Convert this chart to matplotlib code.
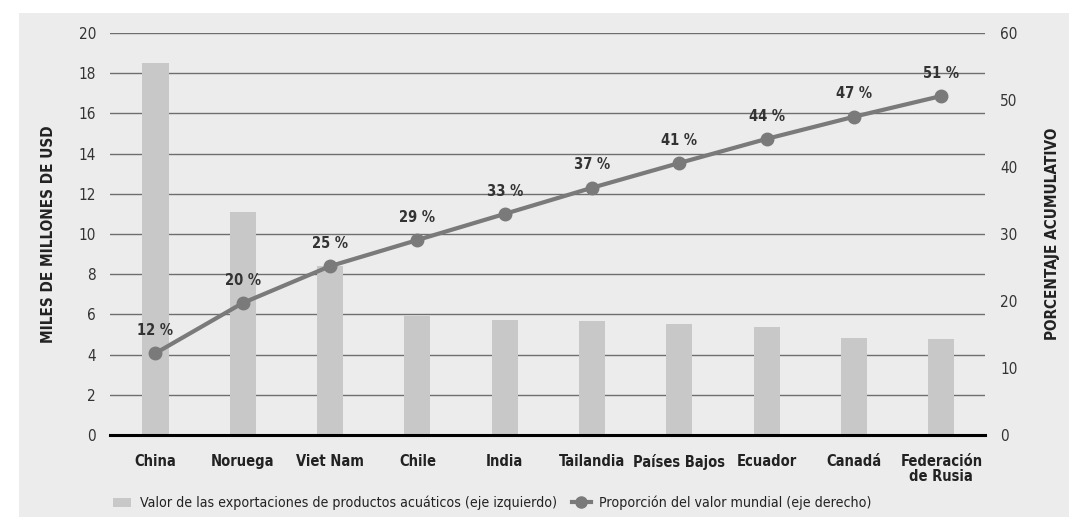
import matplotlib.pyplot as plt
from matplotlib.patches import Rectangle
from matplotlib.lines import Line2D
from matplotlib.patches import Patch

plt.rcParams['font.family'] = ['DejaVu Sans']
plt.rcParams['font.stretch'] = 'condensed'

# Datos
paises = ['China', 'Noruega', 'Viet Nam', 'Chile', 'India', 'Tailandia',
          'Países Bajos', 'Ecuador', 'Canadá', 'Federación\nde Rusia']
exportaciones = [18.5, 11.1, 8.4, 5.92, 5.72, 5.67, 5.5, 5.39, 4.84, 4.78]
acumulado = [12.2, 19.7, 25.2, 29.1, 33.0, 36.9, 40.6, 44.2, 47.5, 50.6]
etiquetas = ['12 %', '20 %', '25 %', '29 %', '33 %', '37 %', '41 %', '44 %', '47 %', '51 %']

fig = plt.figure(figsize=(10.69, 5.17), dpi=100)
# Fondo gris del recuadro
fig.patches.append(Rectangle((19 / 1069, 0), 1, 1 - 13 / 517, transform=fig.transFigure,
                             facecolor='#ececec', edgecolor='none', zorder=-5))

ax = fig.add_axes([110 / 1069, 82 / 517, 875 / 1069, 402 / 517])
ax.set_facecolor('none')
x = range(len(paises))
ax.bar(x, exportaciones, width=0.3, color='#c8c8c8', zorder=2)
ax.set_xlim(-0.52, 9.5)
ax.set_ylim(0, 20)
ax.set_yticks(range(0, 21, 2))
ax.grid(axis='y', color='#6e6e6e', linewidth=1.0, zorder=1)
for s in ['top', 'right', 'left']:
    ax.spines[s].set_visible(False)
ax.spines['bottom'].set_linewidth(2.2)
ax.spines['bottom'].set_zorder(4)
ax.tick_params(axis='y', length=0, pad=10, labelsize=11, labelcolor='#333333')
ax.tick_params(axis='x', length=0, pad=14, labelsize=10.5)
ax.set_xticks(list(x))
ax.set_xticklabels(paises, fontweight='bold', color='#222222', linespacing=0.95,
                   va='top')
ax.set_ylabel('MILES DE MILLONES DE USD', fontsize=11, fontweight='bold',
              color='#222222', labelpad=16)

ax2 = ax.twinx()
ax2.set_ylim(0, 60)
ax2.set_yticks(range(0, 61, 10))
for s in ['top', 'right', 'left', 'bottom']:
    ax2.spines[s].set_visible(False)
ax2.tick_params(axis='y', length=0, pad=11, labelsize=11, labelcolor='#333333')
ax2.plot(list(x), acumulado, color='#7a7a7a', linewidth=3, marker='o',
         markersize=9, zorder=5)
for xi, yi, t in zip(x, acumulado, etiquetas):
    ax2.annotate(t, (xi, yi), xytext=(0, 11), textcoords='offset points',
                 ha='center', va='bottom', fontsize=10.5, fontweight='bold',
                 color='#333333')
ax2.set_ylabel('PORCENTAJE ACUMULATIVO', fontsize=11, fontweight='bold',
               color='#222222', labelpad=20)

handles = [Patch(facecolor='#c8c8c8', edgecolor='none'),
           Line2D([], [], color='#7a7a7a', linewidth=3, marker='o', markersize=8)]
labels = ['Valor de las exportaciones de productos acuáticos (eje izquierdo)',
          'Proporción del valor mundial (eje derecho)']
fig.legend(handles, labels, loc='lower left', bbox_to_anchor=(100 / 1069, -0.012),
           ncol=2, frameon=False, fontsize=10.2, handlelength=1.3,
           columnspacing=1.1, handletextpad=0.6, labelcolor='#222222')

fig.savefig('out.png', dpi=100, facecolor='white')
